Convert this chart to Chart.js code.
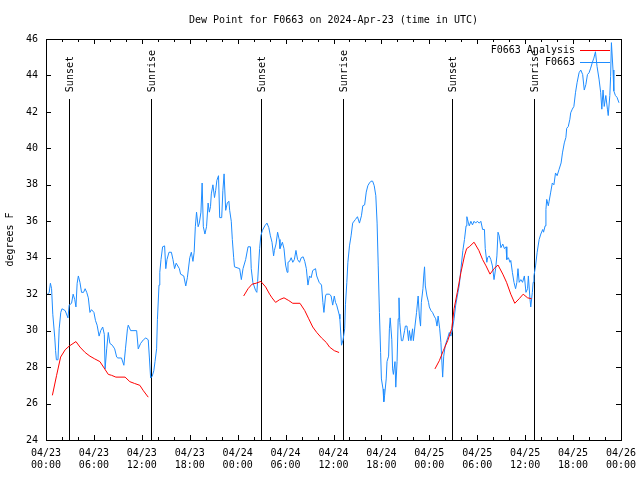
<!DOCTYPE html>
<html>
<head>
<meta charset="utf-8">
<script src="https://cdn.jsdelivr.net/npm/chart.js@4/dist/chart.umd.min.js"></script>
<style>
  html, body { margin: 0; padding: 0; background: #fff; }
  #wrap { width: 640px; height: 480px; }
</style>
</head>
<body>
<div id="wrap"><canvas id="c" width="640" height="480"></canvas></div>
<script>
// ---- data (hours since 2024-04-23 00:00 UTC) ----
const xTickLabels = [
  ['04/23','00:00'], ['04/23','06:00'], ['04/23','12:00'], ['04/23','18:00'],
  ['04/24','00:00'], ['04/24','06:00'], ['04/24','12:00'], ['04/24','18:00'],
  ['04/25','00:00'], ['04/25','06:00'], ['04/25','12:00'], ['04/25','18:00'],
  ['04/26','00:00']
];

const sunEventHours  = [2.9, 13.1, 26.9, 37.2, 50.8, 61.05];
const sunEventLabels = ['Sunset', 'Sunrise', 'Sunset', 'Sunrise', 'Sunset', 'Sunrise'];

const obsHours = [
 0.2,0.4,0.55,0.7,0.85,1.1,1.2,1.3,1.5,1.65,1.85,2.0,2.4,2.75,2.9,3.2,3.4,3.6,3.75,3.9,
 4.05,4.25,4.45,4.7,4.9,5.1,5.3,5.5,5.7,6.0,6.2,6.4,6.65,6.85,7.1,7.3,7.4,7.6,7.8,8.0,
 8.3,8.6,8.85,9.0,9.45,9.75,9.95,10.2,10.3,10.6,11.35,11.55,11.85,12.2,12.5,12.8,12.95,13.1,13.3,13.5,
 13.65,13.85,13.95,14.15,14.25,14.4,14.6,14.85,15.0,15.15,15.4,15.7,15.9,16.1,16.3,16.7,16.85,17.25,17.5,17.7,
 18.0,18.2,18.4,18.55,18.7,18.85,19.05,19.2,19.4,19.55,19.7,19.9,20.1,20.3,20.45,20.6,20.7,20.9,21.1,21.25,
 21.4,21.6,21.75,22.0,22.15,22.3,22.5,22.7,22.9,23.0,23.2,23.33,23.5,23.6,24.25,24.46,24.67,25.0,25.3,25.6,
 25.7,25.9,26.25,26.4,26.5,26.75,26.9,27.1,27.4,27.67,27.9,28.1,28.3,28.5,28.6,28.8,29.0,29.2,29.3,29.6,
 29.8,30.0,30.2,30.3,30.5,30.7,30.9,31.1,31.3,31.5,31.75,31.96,32.2,32.4,32.6,32.8,33.0,33.2,33.4,33.75,
 33.9,34.2,34.5,34.67,34.8,35.0,35.1,35.5,35.7,35.9,36.1,36.25,36.4,36.7,36.8,37.0,37.2,37.4,37.5,37.67,
 37.8,38.0,38.2,38.4,38.75,39.0,39.25,39.5,39.67,39.9,40.1,40.3,40.5,40.7,40.9,41.1,41.3,41.46,41.6,41.75,
 41.9,42.0,42.2,42.3,42.4,42.6,42.7,42.9,43.0,43.1,43.3,43.4,43.5,43.7,43.8,43.96,44.1,44.2,44.3,44.5,
 44.67,44.9,45.0,45.2,45.4,45.5,45.7,45.9,46.0,46.2,46.4,46.6,46.75,46.9,47.0,47.2,47.3,47.4,47.5,47.7,
 47.9,48.0,48.2,48.4,48.6,48.8,48.96,49.1,49.3,49.45,49.67,49.8,50.0,50.3,50.5,50.7,50.9,51.1,51.3,51.5,
 51.75,51.96,52.2,52.4,52.6,52.7,52.9,53.0,53.2,53.4,53.6,53.8,54.0,54.25,54.45,54.67,54.9,55.0,55.2,55.3,
 55.5,55.7,55.9,56.1,56.3,56.46,56.6,56.75,56.96,57.2,57.4,57.6,57.7,57.9,58.1,58.2,58.4,58.6,58.8,58.96,
 59.1,59.25,59.46,59.67,59.9,60.1,60.3,60.4,60.6,60.7,60.9,61.0,61.1,61.3,61.5,61.75,61.96,62.2,62.3,62.5,
 62.6,62.7,62.9,63.0,63.2,63.4,63.6,63.8,64.0,64.25,64.5,64.67,64.9,65.1,65.2,65.4,65.6,65.7,65.9,66.1,
 66.3,66.5,66.75,66.96,67.2,67.4,67.6,67.8,68.0,68.2,68.4,68.6,68.8,69.0,69.25,69.46,69.6,69.75,69.9,70.1,
 70.3,70.4,70.6,70.7,70.8,71.0,71.1,71.3,71.5,71.75
];
const obsValues = [
 32.0,32.1,32.6,32.3,30.9,29.6,28.9,28.4,28.4,30.1,31.0,31.2,31.1,30.7,31.4,31.5,32.0,31.7,31.3,32.6,
 33.0,32.65,32.1,32.1,32.3,32.1,31.8,31.0,31.15,31.0,30.55,30.3,29.7,30.0,30.2,29.8,27.9,29.0,29.9,29.3,
 29.2,29.0,28.55,28.5,28.5,28.1,29.0,30.1,30.3,30.0,30.0,29.0,29.3,29.5,29.6,29.5,28.5,27.4,27.5,27.8,
 28.3,29.0,30.6,32.5,33.2,33.9,34.6,34.65,33.4,33.9,34.3,34.3,33.9,33.4,33.7,33.4,33.1,33.0,32.45,32.9,
 34.0,34.3,33.8,34.3,35.7,36.5,35.7,35.9,36.5,38.1,35.7,35.3,35.7,37.0,36.5,36.8,37.5,38.0,37.3,37.7,
 38.25,38.5,36.2,36.2,37.7,38.6,36.6,37.0,37.1,36.6,36.0,35.0,34.0,33.5,33.4,32.8,33.4,33.9,34.6,34.6,
 33.4,32.65,32.2,32.1,32.7,34.5,35.2,35.5,35.75,35.9,35.65,35.2,34.85,34.1,34.4,34.75,35.4,35.0,34.5,34.85,
 34.5,33.6,33.2,33.75,33.8,34.0,33.75,33.9,34.4,33.9,33.75,34.0,34.05,33.8,33.4,32.5,33.0,32.9,33.3,33.4,
 33.0,32.65,32.5,31.55,31.0,31.9,32.0,32.0,31.9,31.4,31.9,31.55,31.4,30.9,30.65,29.2,29.5,30.1,31.45,32.65,
 33.75,34.65,35.2,35.9,36.1,36.25,35.9,36.3,36.85,36.9,37.6,37.95,38.1,38.2,38.2,37.95,37.4,35.9,33.55,31.0,
 28.8,27.35,26.8,26.1,26.45,27.35,28.3,28.6,30.1,30.7,29.5,27.9,27.6,28.3,26.9,28.3,30.65,31.8,30.45,29.45,
 29.45,30.0,30.25,30.25,29.45,30.0,29.45,30.1,29.45,30.25,31.0,31.9,30.8,30.25,31.55,32.3,33.0,33.5,32.45,31.9,
 31.55,31.3,31.1,31.0,30.8,30.65,30.25,30.8,30.1,29.35,27.45,28.6,29.2,29.6,29.9,29.7,30.1,30.65,31.4,31.9,
 32.5,33.4,34.4,35.0,35.75,36.25,35.9,35.75,36.0,35.8,36.0,35.9,36.0,35.9,36.0,35.55,35.55,34.5,33.75,34.0,
 34.1,33.9,33.55,32.8,33.4,34.1,35.4,35.2,34.55,34.75,34.5,34.6,33.9,34.0,33.75,33.85,33.2,32.65,32.3,32.65,
 33.4,32.65,32.8,32.65,33.0,32.1,32.3,33.0,31.75,31.3,32.1,32.65,33.0,33.55,34.3,35.0,35.3,35.55,35.4,35.75,
 36.65,37.2,36.85,37.1,37.6,38.1,38.0,38.65,38.5,38.85,39.2,39.75,40.3,40.6,41.1,41.2,41.6,41.95,42.15,42.3,
 43.05,43.6,44.15,44.3,44.05,43.2,43.5,44.05,44.15,44.4,44.7,44.95,45.3,44.5,43.8,43.05,42.15,43.2,42.3,42.9,
 42.15,41.8,42.9,43.95,45.8,44.3,43.15,42.9,42.8,42.5
];

// analysis series; null marks a gap between runs
const anaHours = [
 0.8,1.33,1.83,2.4,2.9,3.75,4.25,4.9,5.5,6.1,6.75,7.2,7.8,8.2,8.75,9.9,10.5,11.1,11.75,12.2,12.8,
 18.0,
 24.75,25.3,25.8,26.3,26.9,27.5,28.0,28.3,28.75,29.25,29.8,30.4,30.9,31.8,32.4,32.9,33.4,33.9,34.5,35.1,35.5,36.1,36.7,
 42.0,
 48.7,49.25,49.75,50.3,50.8,51.1,51.5,51.96,52.4,52.67,53.0,53.6,54.2,54.67,55.1,55.6,56.1,56.6,57.2,57.67,58.2,58.7,59.25,59.75,60.3,60.8
];
const anaValues = [
 26.45,27.55,28.55,28.95,29.15,29.4,29.1,28.8,28.6,28.45,28.3,28.0,27.6,27.55,27.45,27.45,27.2,27.1,27.0,26.7,26.35,
 null,
 31.9,32.3,32.55,32.6,32.7,32.4,32.0,31.8,31.55,31.7,31.8,31.65,31.5,31.5,31.1,30.65,30.2,29.9,29.6,29.35,29.1,28.9,28.8,
 null,
 27.9,28.35,28.9,29.45,30.1,31.2,32.1,33.2,34.1,34.5,34.6,34.85,34.4,33.9,33.55,33.1,33.4,33.6,33.1,32.65,32.0,31.5,31.75,32.0,31.8,31.75
];

const seriesNames = ['F0663 Analysis', 'F0663'];
const seriesColors = ['#ff0000', '#1e8cff'];

// ---- chart ----
const FONT = '"DejaVu Sans Mono", "Liberation Mono", monospace';
Chart.defaults.font.family = FONT;
Chart.defaults.font.size = 10;
Chart.defaults.color = '#000';

const toPts = (xs, ys) => xs.map((h, i) => ({ x: h, y: ys[i] }));

const gnuplotDecor = {
  id: 'gnuplotDecor',
  beforeDatasetsDraw(chart) {
    const { ctx, chartArea: a, scales: { x } } = chart;
    ctx.save();
    ctx.strokeStyle = '#000';
    ctx.fillStyle = '#000';
    ctx.lineWidth = 1;
    ctx.font = '10px ' + FONT;
    const lineTop = a.bottom - 0.85 * (a.bottom - a.top);
    sunEventHours.forEach((h, i) => {
      const px = Math.round(x.getPixelForValue(h)) + 0.5;
      ctx.beginPath();
      ctx.moveTo(px, Math.round(lineTop));
      ctx.lineTo(px, a.bottom);
      ctx.stroke();
      ctx.save();
      ctx.translate(px + 1, lineTop - 7);
      ctx.rotate(-Math.PI / 2);
      ctx.textAlign = 'left';
      ctx.textBaseline = 'middle';
      ctx.fillText(sunEventLabels[i], 0, 0);
      ctx.restore();
    });
    ctx.restore();
  },
  afterDatasetsDraw(chart) {
    const { ctx, chartArea: a, scales: { x, y } } = chart;
    ctx.save();
    ctx.strokeStyle = '#000';
    ctx.lineWidth = 1;
    // frame
    ctx.strokeRect(a.left + 0.5, a.top + 0.5, a.right - a.left, a.bottom - a.top);
    // x ticks (inward, mirrored)
    ctx.beginPath();
    for (let h = 2; h < 72; h += 2) {
      const px = Math.round(x.getPixelForValue(h)) + 0.5;
      const len = (h % 6 === 0) ? 5 : 3;
      ctx.moveTo(px, a.bottom); ctx.lineTo(px, a.bottom - len);
      ctx.moveTo(px, a.top); ctx.lineTo(px, a.top + len);
    }
    // y ticks
    for (let v = 26; v < 46; v += 2) {
      const py = Math.round(y.getPixelForValue(v)) + 0.5;
      ctx.moveTo(a.left, py); ctx.lineTo(a.left + 5, py);
      ctx.moveTo(a.right, py); ctx.lineTo(a.right - 5, py);
    }
    ctx.stroke();
    // key (top right)
    ctx.font = '10px ' + FONT;
    ctx.fillStyle = '#000';
    ctx.textAlign = 'right';
    ctx.textBaseline = 'middle';
    chart.data.datasets.forEach((ds, i) => {
      const ky = a.top + 11 + i * 12;
      ctx.fillText(ds.label, a.right - 46, ky);
      ctx.strokeStyle = ds.borderColor;
      ctx.beginPath();
      ctx.moveTo(a.right - 41, ky + 0.5);
      ctx.lineTo(a.right - 11, ky + 0.5);
      ctx.stroke();
    });
    ctx.restore();
  }
};

new Chart(document.getElementById('c'), {
  type: 'line',
  data: {
    datasets: [
      {
        label: seriesNames[0],
        data: toPts(anaHours, anaValues),
        borderColor: seriesColors[0],
        borderWidth: 1,
        pointRadius: 0,
        tension: 0,
        spanGaps: false,
        fill: false
      },
      {
        label: seriesNames[1],
        data: toPts(obsHours, obsValues),
        borderColor: seriesColors[1],
        borderWidth: 1,
        pointRadius: 0,
        tension: 0,
        fill: false
      }
    ]
  },
  options: {
    responsive: false,
    animation: false,
    layout: { padding: { left: 0, right: 19, top: 0, bottom: 0 } },
    plugins: {
      legend: { display: false },
      tooltip: { enabled: false },
      title: {
        display: true,
        fullSize: false,
        text: 'Dew Point for F0663 on 2024-Apr-23 (time in UTC)',
        color: '#000',
        font: { family: FONT, size: 10, weight: 'normal', lineHeight: 1.2 },
        padding: { top: 14, bottom: 13 }
      }
    },
    scales: {
      x: {
        type: 'linear',
        min: 0,
        max: 72,
        grid: { display: false, drawTicks: false, tickLength: 0 },
        border: { display: false },
        ticks: {
          stepSize: 6,
          autoSkip: false,
          maxRotation: 0,
          minRotation: 0,
          padding: 7,
          font: { family: FONT, size: 10, lineHeight: 1.2 },
          color: '#000',
          callback: (v, i) => xTickLabels[i]
        },
        afterFit: (s) => { s.height = 40; s.paddingLeft = 0; s.paddingRight = 0; }
      },
      y: {
        min: 24,
        max: 46,
        grid: { display: false, drawTicks: false, tickLength: 0 },
        border: { display: false },
        ticks: {
          stepSize: 2,
          padding: 8,
          font: { family: FONT, size: 10 },
          color: '#000'
        },
        title: {
          display: true,
          text: 'degrees F',
          color: '#000',
          font: { family: FONT, size: 10, lineHeight: 1.2 },
          padding: { top: 4, bottom: 0 }
        },
        afterFit: (s) => { s.width = 46; s.paddingTop = 0; s.paddingBottom = 0; }
      }
    }
  },
  plugins: [gnuplotDecor]
});
</script>
</body>
</html>
